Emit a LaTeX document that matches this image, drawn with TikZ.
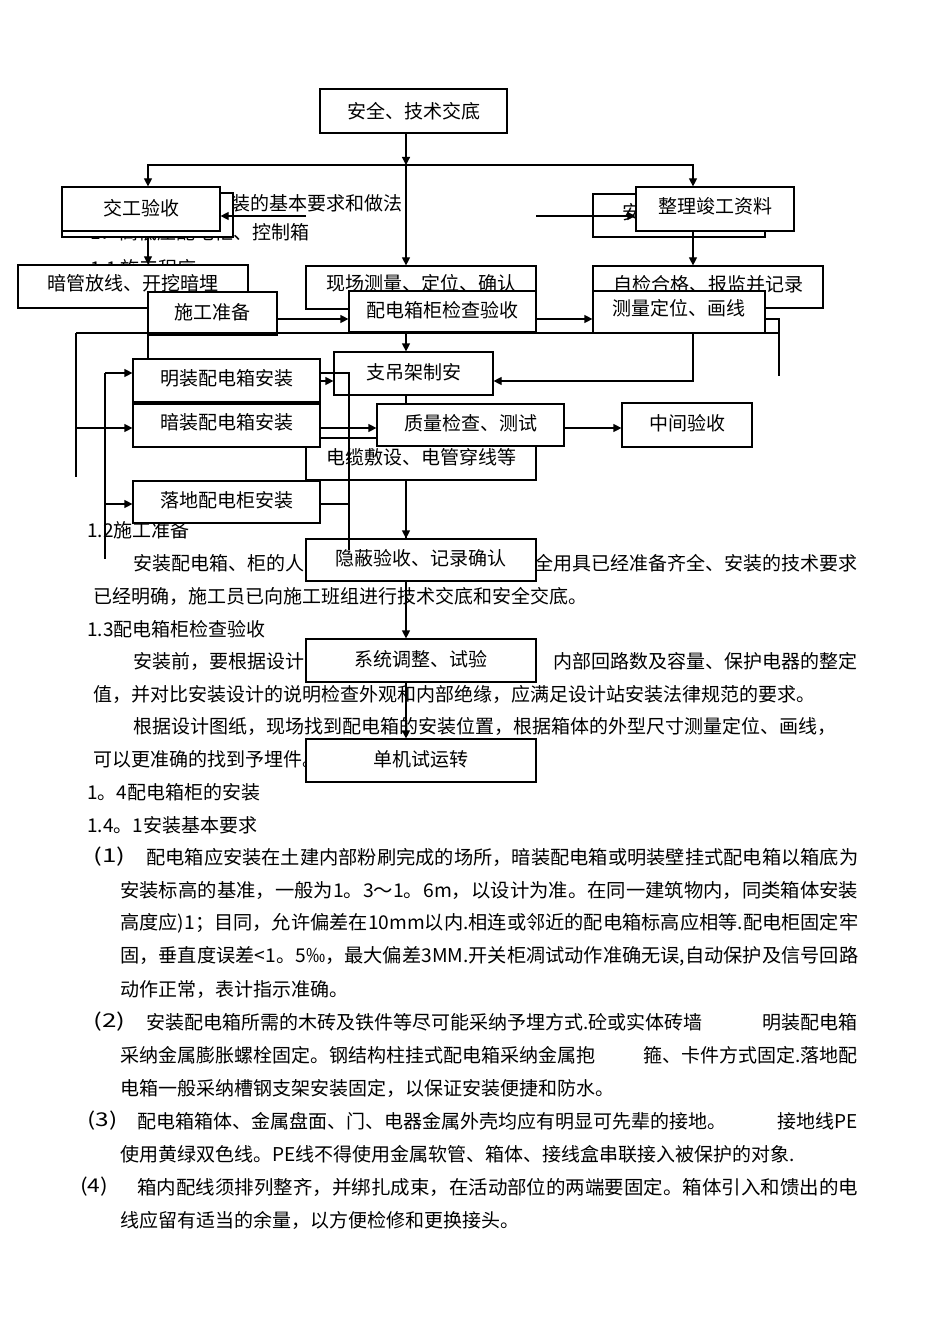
\documentclass[tikz,border=0pt]{standalone}
\usepackage{fontspec}
\setmainfont{Noto Sans CJK SC}
\usepackage{graphicx}
\usetikzlibrary{arrows.meta,calc}
\newdimen\pxu \pxu=0.75pt
\newcommand\fbx[7]{\node[bx, minimum width={(#4-#2)*0.75pt}, minimum height={(#5-#3)*0.75pt}] (#1) at ({(#2+#4)/2},{(#3+#5)/2}) {\raisebox{#7\pxu}[\height][\depth]{#6}};}
\newcommand\ptx[4]{\node[txt,anchor=west] (#1) at (#2,#3) {#4};}
\newcommand\ptr[4]{\node[txt,anchor=east] (#1) at (#2,#3) {#4};}
\newcommand\pjt[5]{\node[txt,anchor=west] (#1) at (#2,#3) {\resizebox{#4\pxu}{\height}{#5}};}
\begin{document}
\begin{tikzpicture}[x=0.75pt,y=-0.75pt,
 txt/.style={inner sep=0pt, font=\fontsize{14.25}{17}\selectfont},
 bx/.style={draw, fill=white, line width=0.9pt, inner sep=0pt, font=\fontsize{14.25}{17}\selectfont},
 ln/.style={line width=0.9pt},
 arr/.style={line width=0.9pt, -{Triangle[length=6pt,width=6pt]}}]
\fill[white] (0,0) rectangle (950,1344);
\useasboundingbox (0,0) rectangle (950,1344);

% ---------- background texts ----------
\ptx{h1}{231}{203}{装的基本要求和做法}
\ptx{h2}{90}{232}{1．高低压配电柜、控制箱}
\ptx{h3}{90}{268}{1.1 施工程序}

\ptx{b1}{87}{530}{1.2施工准备}
\ptx{b2a}{133}{563}{安装配电箱、柜的人}
\ptr{b2b}{858}{563}{全用具已经准备齐全、安装的技术要求}
\ptx{b3}{93}{596}{已经明确，施工员已向施工班组进行技术交底和安全交底。}
\ptx{b4}{87}{629}{1.3配电箱柜检查验收}
\ptx{b5a}{133}{661}{安装前，要根据设计}
\ptr{b5b}{858}{661}{内部回路数及容量、保护电器的整定}
\ptx{b6}{93}{694}{值，并对比安装设计的说明检查外观和内部绝缘，应满足设计站安装法律规范的要求。}
\ptx{b7}{133}{726}{根据设计图纸，现场找到配电箱的安装位置，根据箱体的外型尺寸测量定位、画线，}
\ptx{b8}{93}{759}{可以更准确的找到予埋件。}
\ptx{b9}{87}{792}{1。4配电箱柜的安装}
\ptx{b10}{87}{825}{1.4。1安装基本要求}
\pjt{b11a}{93}{857}{32}{(1)}
\pjt{b11b}{146}{857}{712}{配电箱应安装在土建内部粉刷完成的场所，暗装配电箱或明装壁挂式配电箱以箱底为}
\pjt{b12}{120}{890}{738}{安装标高的基准，一般为1。3～1。6m，以设计为准。在同一建筑物内，同类箱体安装}
\pjt{b13}{120}{923}{738}{高度应)1；目同，允许偏差在10mm以内.相连或邻近的配电箱标高应相等.配电柜固定牢}
\pjt{b14}{120}{956}{738}{固，垂直度误差<1。5‰，最大偏差3MM.开关柜凋试动作准确无误,自动保护及信号回路}
\ptx{b15}{120}{989}{动作正常，表计指示准确。}
\pjt{b16a}{93}{1022}{32}{(2)}
\ptx{b16b}{146}{1022}{安装配电箱所需的木砖及铁件等尽可能采纳予埋方式.砼或实体砖墙}
\ptr{b16c}{858}{1022}{明装配电箱}
\ptx{b17a}{120}{1055}{采纳金属膨胀螺栓固定。钢结构柱挂式配电箱采纳金属抱}
\ptr{b17b}{858}{1055}{箍、卡件方式固定.落地配}
\ptx{b18}{120}{1088}{电箱一般采纳槽钢支架安装固定，以保证安装便捷和防水。}
\pjt{b19a}{87}{1121}{30}{(3)}
\ptx{b19b}{137}{1121}{配电箱箱体、金属盘面、门、电器金属外壳均应有明显可先辈的接地。}
\ptr{b19c}{858}{1121}{接地线PE}
\ptx{b20}{120}{1154}{使用黄绿双色线。PE线不得使用金属软管、箱体、接线盒串联接入被保护的对象.}
\pjt{b21a}{80}{1187}{28}{(4)}
\pjt{b21b}{137}{1187}{721}{箱内配线须排列整齐，并绑扎成束，在活动部位的两端要固定。箱体引入和馈出的电}
\ptx{b22}{120}{1220}{线应留有适当的余量，以方便检修和更换接头。}

% ---------- named junctions ----------
\coordinate (j1) at (406,165);
\coordinate (jL) at (148,165);
\coordinate (jR) at (693,165);
\coordinate (a1) at (306,216);
\coordinate (a2) at (536,216);
\coordinate (r0) at (779,319);
\coordinate (r1) at (779,376);
\coordinate (h0) at (76,333);
\coordinate (h1) at (76,477);
\coordinate (h2) at (76,428);
\coordinate (v0) at (105,373);
\coordinate (v1) at (105,559);
\coordinate (v2) at (105,504);
\coordinate (w0) at (349,373);
\coordinate (w1) at (349,550);
\coordinate (w2) at (349,504);
\coordinate (k1) at (693,381);

% ---------- connector hidden behind boxes ----------
\fbx{zd}{334}{352}{493}{395}{支吊架制安}{1.5}
\draw[ln] (zd.south -| j1) -- (406,539);

% ---------- boxes ----------
\fbx{aq}{320}{89}{507}{133}{安全、技术交底}{0}
\fbx{jgb}{62}{193}{233}{237}{}{0}
\fbx{jg}{62}{187}{220}{231}{交工验收}{1}
\fbx{zlb}{593}{194}{765}{237}{}{0}
\ptx{h4}{622}{212}{安}
\fbx{zl}{636}{187}{794}{231}{整理竣工资料}{3}
\fbx{ag}{18}{265}{248}{308}{暗管放线、开挖暗埋}{3.5}
\fbx{sg}{148}{292}{277}{335}{施工准备}{1.5}
\fbx{xc}{306}{266}{536}{309}{现场测量、定位、确认}{4.5}
\fbx{pd}{349}{291}{536}{332}{配电箱柜检查验收}{1.5}
\fbx{zj}{593}{266}{823}{308}{自检合格、报监并记录}{3}
\fbx{cl}{593}{291}{765}{333}{测量定位、画线}{4}
\fbx{mz}{133}{359}{320}{402}{明装配电箱安装}{2.5}
\fbx{dl}{306}{438}{536}{480}{电缆敷设、电管穿线等}{2}
\fbx{az}{133}{404}{320}{447}{暗装配电箱安装}{3.5}
\fbx{zc}{377}{404}{564}{446}{质量检查、测试}{2}
\fbx{zy}{622}{403}{752}{447}{中间验收}{2}
\fbx{ld}{133}{481}{320}{523}{落地配电柜安装}{2}
\fbx{yb}{306}{539}{536}{581}{隐蔽验收、记录确认}{2}
\fbx{xt}{306}{639}{536}{682}{系统调整、试验}{1.5}
\fbx{dj}{306}{739}{536}{782}{单机试运转}{1.5}

% ---------- connectors ----------
\draw[arr] (aq.south -| j1) -- (j1);
\draw[arr] (j1) -- (xc.north -| j1);
\draw[arr] (j1) -- (jL) -- (jg.north -| jL);
\draw[arr] (j1) -- (jR) -- (zl.north -| jR);
\draw[arr] (a1) -- (a1 -| jg.east);
\draw[arr] (a2) -- (a2 -| zl.west);
\draw[arr] (jgb.south -| jL) -- (ag.north -| jL);
\draw[arr] (zl.south -| jR) -- (zj.north -| jR);
\draw[arr] (sg.east |- 0,319) -- (pd.west |- 0,319);
\draw[arr] (pd.east |- 0,319) -- (cl.west |- 0,319);
\draw[ln] (cl.east |- r0) -- (r0) -- (r1);
\draw[arr] (pd.south -| j1) -- (zd.north -| j1);
\draw[ln] (h0) -- (r0 |- h0);
\draw[ln] (h0) -- (h1);
\draw[arr] (h2) -- (az.west |- h2);
\draw[arr] (cl.south -| k1) -- (k1) -- (zd.east |- k1);
\draw[ln] (sg.south -| jL) -- (mz.north -| jL);
\draw[ln] (v0) -- (v1);
\draw[arr] (v0) -- (mz.west |- v0);
\draw[arr] (v2) -- (ld.west |- v2);
\draw[arr] (mz.east |- 0,381) -- (zd.west |- 0,381);
\draw[ln] (mz.east |- w0) -- (w0) -- (w1);
\draw[ln] (ld.east |- w2) -- (w2);
\draw[arr] (az.east |- 0,428) -- (zc.west |- 0,428);
\draw[arr] (zc.east |- 0,428) -- (zy.west |- 0,428);
\draw[arr] (dl.south -| j1) -- (yb.north -| j1);
\draw[arr] (yb.south -| j1) -- (xt.north -| j1);
\draw[arr] (xt.south -| j1) -- (dj.north -| j1);
\end{tikzpicture}
\end{document}
